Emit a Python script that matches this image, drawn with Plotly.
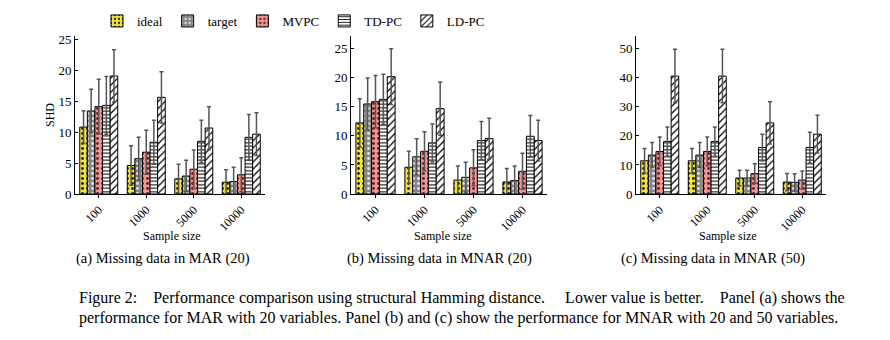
import plotly.graph_objects as go

categories = ["100", "1000", "5000", "10000"]
methods = ["ideal", "target", "MVPC", "TD-PC", "LD-PC"]

# Panel (a) MAR (20)
a_mean = {
    "ideal": [10.8, 4.6, 2.45, 1.9],
    "target": [13.4, 5.7, 2.9, 2.0],
    "MVPC": [14.1, 6.75, 4.0, 3.1],
    "TD-PC": [14.3, 8.35, 8.5, 9.15],
    "LD-PC": [19.05, 15.6, 10.65, 9.65],
}
a_err = {
    "ideal": [2.65, 3.2, 2.35, 2.0],
    "target": [3.5, 3.45, 2.55, 2.3],
    "MVPC": [4.4, 3.55, 3.1, 2.75],
    "TD-PC": [4.65, 3.55, 3.4, 3.7],
    "LD-PC": [4.25, 4.15, 3.45, 3.45],
}
# Panel (b) MNAR (20)
b_mean = {
    "ideal": [12.24, 4.6, 2.4, 2.07],
    "target": [15.5, 6.4, 2.87, 2.3],
    "MVPC": [15.9, 7.35, 4.5, 3.9],
    "TD-PC": [16.3, 8.8, 9.2, 9.94],
    "LD-PC": [20.2, 14.7, 9.54, 9.2],
}
b_err = {
    "ideal": [4.16, 2.75, 2.43, 2.3],
    "target": [4.45, 3.1, 2.59, 2.53],
    "MVPC": [4.5, 3.35, 3.1, 3.1],
    "TD-PC": [4.3, 3.27, 3.3, 3.56],
    "LD-PC": [4.8, 4.6, 3.51, 3.5],
}
# Panel (c) MNAR (50)
c_mean = {
    "ideal": [11.44, 11.44, 5.5, 4.1],
    "target": [13.4, 13.4, 5.5, 4.0],
    "MVPC": [14.65, 14.65, 7.0, 4.8],
    "TD-PC": [18.1, 18.1, 16.0, 16.0],
    "LD-PC": [40.6, 40.6, 24.5, 20.6],
}
c_err = {
    "ideal": [4.26, 4.26, 2.7, 3.0],
    "target": [4.3, 4.3, 2.7, 3.0],
    "MVPC": [4.95, 4.95, 3.4, 3.1],
    "TD-PC": [5.0, 5.0, 4.6, 5.3],
    "LD-PC": [9.2, 9.2, 7.3, 6.5],
}

styles = {
    "ideal": dict(color="#f2e43c", shape=".", fg="#222222", size=5, sol=0.25),
    "target": dict(color="#858585", shape=".", fg="#e6e6e6", size=5, sol=0.25),
    "MVPC": dict(color="#f09494", shape=".", fg="#5a2020", size=5, sol=0.25),
    "TD-PC": dict(color="#ffffff", shape="-", fg="#000000", size=3.5, sol=0.3),
    "LD-PC": dict(color="#ffffff", shape="/", fg="#000000", size=5, sol=0.25),
}

W, H = 890, 340
panels = [
    (a_mean, a_err, "x", "y", [75, 265], [0, 25.5], [0, 5, 10, 15, 20, 25]),
    (b_mean, b_err, "x2", "y2", [351, 547], [0, 27.2], [0, 5, 10, 15, 20, 25]),
    (c_mean, c_err, "x3", "y3", [636, 826], [0, 54.4], [0, 10, 20, 30, 40, 50]),
]

fig = go.Figure()
serif = "Liberation Serif"
for pi, (means, errs, xa, ya, xd, yr, yt) in enumerate(panels):
    for m in methods:
        s = styles[m]
        fig.add_trace(go.Bar(
            x=categories, y=means[m], name=m, xaxis=xa, yaxis=ya,
            showlegend=(pi == 0), legendgroup=m,
            marker=dict(color=s["color"], line=dict(color="black", width=1),
                        pattern=dict(shape=s["shape"], fgcolor=s["fg"], bgcolor=s["color"],
                                     size=s["size"], solidity=s["sol"], fillmode="replace")),
            error_y=dict(type="data", array=errs[m], visible=True, color="#555555",
                         thickness=1.5, width=2),
        ))

y0 = 1 - 194 / H
y1 = 1 - 36 / H
layout = dict(
    template="none",
    width=W, height=H, margin=dict(l=0, r=0, t=0, b=0, autoexpand=False),
    paper_bgcolor="white", plot_bgcolor="white",
    barmode="group", bargap=0.2, bargroupgap=0,
    font=dict(family=serif, color="black", size=12),
    legend=dict(orientation="h", x=97 / W, y=1 - 6 / H, xanchor="left", yanchor="top",
                font=dict(family=serif, size=13), itemwidth=30, tracegroupgap=0,
                bgcolor="rgba(0,0,0,0)"),
)
for pi, (means, errs, xa, ya, xd, yr, yt) in enumerate(panels):
    sfx = "" if pi == 0 else str(pi + 1)
    layout["xaxis" + sfx] = dict(
        type="category", categoryorder="array", categoryarray=categories,
        domain=[xd[0] / W, xd[1] / W], anchor="y" + sfx, showline=True, linecolor="black",
        linewidth=1, ticks="outside", ticklen=3, tickcolor="black", tickangle=-45,
        tickfont=dict(size=12, family=serif), showgrid=False, zeroline=False,
        automargin=False,
    )
    layout["yaxis" + sfx] = dict(
        domain=[y0, y1], anchor="x" + sfx, range=yr, tickvals=yt, showline=True,
        linecolor="black", linewidth=1, ticks="inside", ticklen=3, tickcolor="black",
        tickfont=dict(size=13, family=serif), showgrid=False, zeroline=False,
        automargin=False,
    )
fig.update_layout(**layout)

ann = []
def add_text(text, x, y, size, xanchor="center", angle=0):
    ann.append(dict(text=text, x=x / W, y=1 - y / H, xref="paper", yref="paper",
                    xanchor=xanchor, yanchor="middle", showarrow=False, textangle=angle,
                    font=dict(size=size, family=serif, color="black")))

add_text("SHD", 50, 115, 12, angle=-90)
for cx in [172, 443, 728]:
    add_text("Sample size", cx, 236, 12)
subcaps = ["(a) Missing data in MAR (20)", "(b) Missing data in MNAR (20)", "(c) Missing data in MNAR (50)"]
for cx, t in zip([163, 439, 713], subcaps):
    add_text(t, cx, 258, 14.5)
cap1 = ("Figure 2:&nbsp;&nbsp;&nbsp; Performance comparison using structural Hamming distance.&nbsp;&nbsp;&nbsp;&nbsp; "
        "Lower value is better.&nbsp;&nbsp;&nbsp; Panel (a) shows the")
cap2 = "performance for MAR with 20 variables. Panel (b) and (c) show the performance for MNAR with 20 and 50 variables."
add_text(cap1, 77, 298, 16, xanchor="left")
add_text(cap2, 77, 318, 16, xanchor="left")
fig.update_layout(annotations=ann)

fig.write_html("out.html")
